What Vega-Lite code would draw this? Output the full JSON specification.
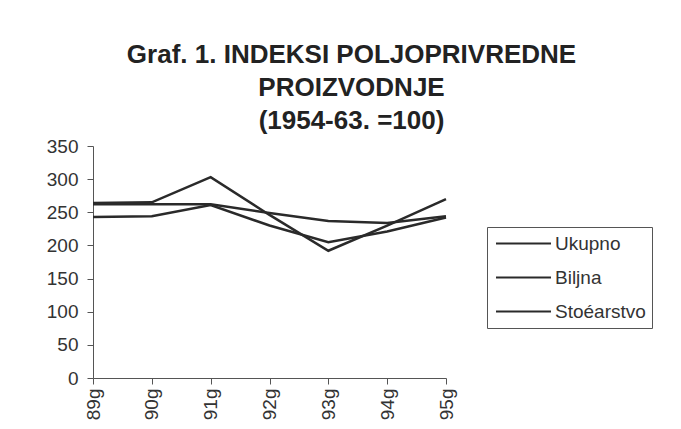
{
  "$schema": "https://vega.github.io/schema/vega-lite/v6.json",
  "width": 353,
  "height": 232,
  "autosize": {"type": "none"},
  "padding": {"left": 93, "top": 146, "right": 235, "bottom": 51},
  "background": "#ffffff",
  "title": {
    "text": ["Graf. 1. INDEKSI POLJOPRIVREDNE", "PROIZVODNJE", "(1954-63. =100)"],
    "font": "Liberation Sans",
    "fontWeight": "bold",
    "fontSize": 26,
    "lineHeight": 33,
    "color": "#222222",
    "anchor": "middle",
    "frame": "group",
    "dx": 82,
    "offset": 3
  },
  "data": {
    "values": [
      {"god": "89g", "serija": "Biljna", "indeks": 264},
      {"god": "90g", "serija": "Biljna", "indeks": 265},
      {"god": "91g", "serija": "Biljna", "indeks": 303},
      {"god": "92g", "serija": "Biljna", "indeks": 246},
      {"god": "93g", "serija": "Biljna", "indeks": 192},
      {"god": "94g", "serija": "Biljna", "indeks": 230},
      {"god": "95g", "serija": "Biljna", "indeks": 270},
      {"god": "89g", "serija": "Stoéarstvo", "indeks": 262},
      {"god": "90g", "serija": "Stoéarstvo", "indeks": 262},
      {"god": "91g", "serija": "Stoéarstvo", "indeks": 262},
      {"god": "92g", "serija": "Stoéarstvo", "indeks": 249},
      {"god": "93g", "serija": "Stoéarstvo", "indeks": 237},
      {"god": "94g", "serija": "Stoéarstvo", "indeks": 234},
      {"god": "95g", "serija": "Stoéarstvo", "indeks": 244},
      {"god": "89g", "serija": "Ukupno", "indeks": 243},
      {"god": "90g", "serija": "Ukupno", "indeks": 244},
      {"god": "91g", "serija": "Ukupno", "indeks": 261},
      {"god": "92g", "serija": "Ukupno", "indeks": 230},
      {"god": "93g", "serija": "Ukupno", "indeks": 205},
      {"god": "94g", "serija": "Ukupno", "indeks": 221},
      {"god": "95g", "serija": "Ukupno", "indeks": 242}
    ]
  },
  "mark": {"type": "line", "strokeWidth": 2.5},
  "encoding": {
    "x": {
      "field": "god",
      "type": "ordinal",
      "sort": null,
      "scale": {"type": "point", "padding": 0},
      "axis": {
        "title": null,
        "labelAngle": 270,
        "labelFont": "Liberation Sans",
        "labelFontSize": 19,
        "labelColor": "#333333",
        "labelPadding": 4,
        "tickSize": 6,
        "tickColor": "#555555",
        "domainColor": "#555555",
        "grid": false
      }
    },
    "y": {
      "field": "indeks",
      "type": "quantitative",
      "scale": {"domain": [0, 350], "nice": false},
      "axis": {
        "title": null,
        "values": [0, 50, 100, 150, 200, 250, 300, 350],
        "labelFont": "Liberation Sans",
        "labelFontSize": 19,
        "labelColor": "#333333",
        "labelPadding": 9,
        "tickSize": 6,
        "tickColor": "#555555",
        "domainColor": "#555555",
        "grid": false
      }
    },
    "color": {
      "field": "serija",
      "type": "nominal",
      "scale": {
        "domain": ["Ukupno", "Biljna", "Stoéarstvo"],
        "range": ["#2a2a2a", "#2a2a2a", "#2a2a2a"]
      },
      "legend": {
        "title": null,
        "orient": "none",
        "legendX": 394,
        "legendY": 81,
        "symbolType": "M-3,0H3",
        "symbolSize": 336,
        "symbolOffset": 20,
        "symbolStrokeWidth": 2,
        "labelFont": "Liberation Sans",
        "labelFontSize": 19,
        "labelColor": "#333333",
        "labelOffset": 21,
        "strokeColor": "#555555",
        "padding": 6,
        "rowPadding": 13
      }
    }
  },
  "config": {"view": {"stroke": null}}
}
